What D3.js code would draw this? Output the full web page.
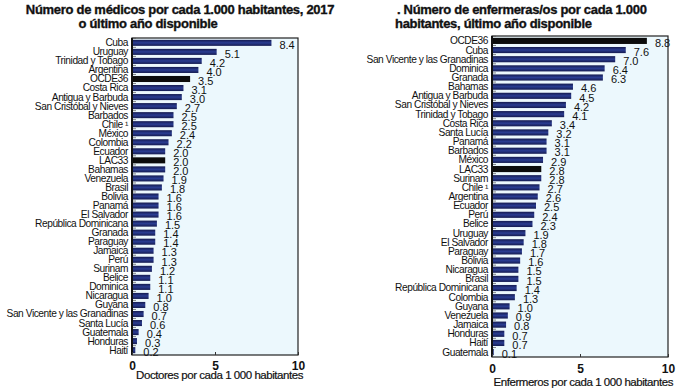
<!DOCTYPE html>
<html><head><meta charset="utf-8">
<script src="https://cdn.jsdelivr.net/npm/d3@7"></script>
<style>
body{margin:0;background:#fff;}
</style></head>
<body><svg id="c" width="681" height="391"></svg>
<script>
const docCats = ["Cuba","Uruguay","Trinidad y Tobago","Argentina","OCDE36","Costa Rica","Antigua y Barbuda","San Cristóbal y Nieves","Barbados","Chile ¹","México","Colombia","Ecuador","LAC33","Bahamas","Venezuela","Brasil","Bolivia","Panamá","El Salvador","República Dominicana","Granada","Paraguay","Jamaica","Perú","Surinam","Belice","Dominica","Nicaragua","Guyana","San Vicente y las Granadinas","Santa Lucía","Guatemala","Honduras","Haití"];
const docVals = [8.4,5.1,4.2,4.0,3.5,3.1,3.0,2.7,2.5,2.5,2.4,2.2,2.0,2.0,2.0,1.9,1.8,1.6,1.6,1.6,1.5,1.4,1.4,1.3,1.3,1.2,1.1,1.1,1.0,0.8,0.7,0.6,0.4,0.3,0.2];
const nurCats = ["OCDE36","Cuba","San Vicente y las Granadinas","Dominica","Granada","Bahamas","Antigua y Barbuda","San Cristóbal y Nieves","Trinidad y Tobago","Costa Rica","Santa Lucía","Panamá","Barbados","México","LAC33","Surinam","Chile ¹","Argentina","Ecuador","Perú","Belice","Uruguay","El Salvador","Paraguay","Bolivia","Nicaragua","Brasil","República Dominicana","Colombia","Guyana","Venezuela","Jamaica","Honduras","Haití","Guatemala"];
const nurVals = [8.8,7.6,7.0,6.4,6.3,4.6,4.5,4.2,4.1,3.4,3.2,3.1,3.1,2.9,2.8,2.8,2.7,2.6,2.5,2.4,2.3,1.9,1.8,1.7,1.6,1.5,1.5,1.4,1.3,1.0,0.9,0.8,0.7,0.7,0.1];
const xTicks = [0,5,10];

const FONT = "Liberation Sans, Arial, sans-serif";
const svg = d3.select("#c");
const defs = svg.append("defs");
const g1 = defs.append("linearGradient").attr("id","bl").attr("x1",0).attr("y1",0).attr("x2",0).attr("y2",1);
g1.append("stop").attr("offset","0%").attr("stop-color","#151b50");
g1.append("stop").attr("offset","50%").attr("stop-color","#2a3d92");
g1.append("stop").attr("offset","100%").attr("stop-color","#151b50");

function panel(cfg){
  const x = d3.scaleLinear().domain([0,10]).range([cfg.x0,cfg.x1]);
  const y = d3.scaleBand().domain(cfg.cats).range([cfg.y0,cfg.y1]).paddingInner(0.33).paddingOuter(0.2);
  const g = svg.append("g").attr("font-family",FONT);
  g.append("rect").attr("x",cfg.x0).attr("y",cfg.y0).attr("width",cfg.x1-cfg.x0).attr("height",cfg.y1-cfg.y0)
    .attr("fill","#ecf8fd").attr("stroke","#222").attr("stroke-width",1.2);
  g.selectAll("rect.bar").data(cfg.cats).enter().append("rect").attr("class","bar")
    .attr("x",x(0)).attr("y",d=>y(d)).attr("height",y.bandwidth())
    .attr("width",(d,i)=>x(cfg.vals[i])-x(0))
    .attr("fill",d=>(d==="OCDE36"||d==="LAC33")?"#0c0c0c":"url(#bl)");
  g.selectAll("line.yt").data(cfg.cats).enter().append("line")
    .attr("x1",x(0)).attr("x2",x(0)+4)
    .attr("y1",d=>y(d)-y.step()*0.5*0.33).attr("y2",d=>y(d)-y.step()*0.5*0.33)
    .attr("stroke","#555").attr("stroke-width",0.7);
  g.append("line").attr("x1",x(0)).attr("x2",x(0)).attr("y1",cfg.y0).attr("y2",cfg.y1).attr("stroke","#111").attr("stroke-width",2);
  g.selectAll("text.cat").data(cfg.cats).enter().append("text")
    .attr("x",x(0)-4).attr("y",d=>y(d)+y.bandwidth()/2).attr("dy","0.34em")
    .attr("text-anchor","end").attr("font-size",10.2).attr("letter-spacing",-0.45).attr("fill","#111")
    .text(d=>d);
  g.selectAll("text.val").data(cfg.cats).enter().append("text")
    .attr("x",(d,i)=>x(cfg.vals[i])+8).attr("y",d=>y(d)+y.bandwidth()/2+2).attr("dy","0.34em")
    .attr("font-size",11).attr("fill","#111")
    .text((d,i)=>cfg.vals[i].toFixed(1));
  const ax = d3.axisBottom(x).tickValues(xTicks).tickSize(-3).tickPadding(cfg.tickPad).tickFormat(d3.format("d"));
  const ag = g.append("g").attr("transform",`translate(0,${cfg.y1})`).call(ax);
  ag.select(".domain").remove();
  ag.selectAll(".tick line").attr("stroke","#333");
  ag.selectAll(".tick text").attr("font-size",12).attr("font-weight","bold").attr("fill","#111").attr("font-family",FONT);
  g.append("text").attr("x",cfg.titleX).attr("y",cfg.titleY).attr("text-anchor","end")
    .attr("font-size",11.5).attr("letter-spacing",-0.45).attr("stroke","#111").attr("stroke-width",0.2)
    .attr("fill","#111").text(cfg.axisTitle);
  cfg.title.forEach(t=>{
    g.append("text").attr("x",t.x).attr("y",t.y).attr("text-anchor",t.anchor||"start")
      .attr("font-size",13).attr("font-weight","bold")
      .attr("stroke","#111").attr("stroke-width",0.35)
      .attr("letter-spacing",-0.3).attr("fill","#111").text(t.s);
  });
}

panel({cats:docCats, vals:docVals, x0:132, x1:298, y0:38, y1:355, tickPad:6,
  axisTitle:"Doctores por cada 1 000 habitantes", titleX:303, titleY:379,
  title:[{s:"Número de médicos por cada 1.000 habitantes, 2017",x:180,y:14,anchor:"middle"},{s:"o último año disponible",x:148,y:28,anchor:"middle"}]});
panel({cats:nurCats, vals:nurVals, x0:492, x1:668, y0:36, y1:357, tickPad:7,
  axisTitle:"Enfermeros por cada 1 000 habitantes", titleX:673, titleY:386,
  title:[{s:". Número de enfermeras/os por cada 1.000",x:397,y:14},{s:"habitantes, último año disponible",x:395,y:28}]});
</script></body></html>
